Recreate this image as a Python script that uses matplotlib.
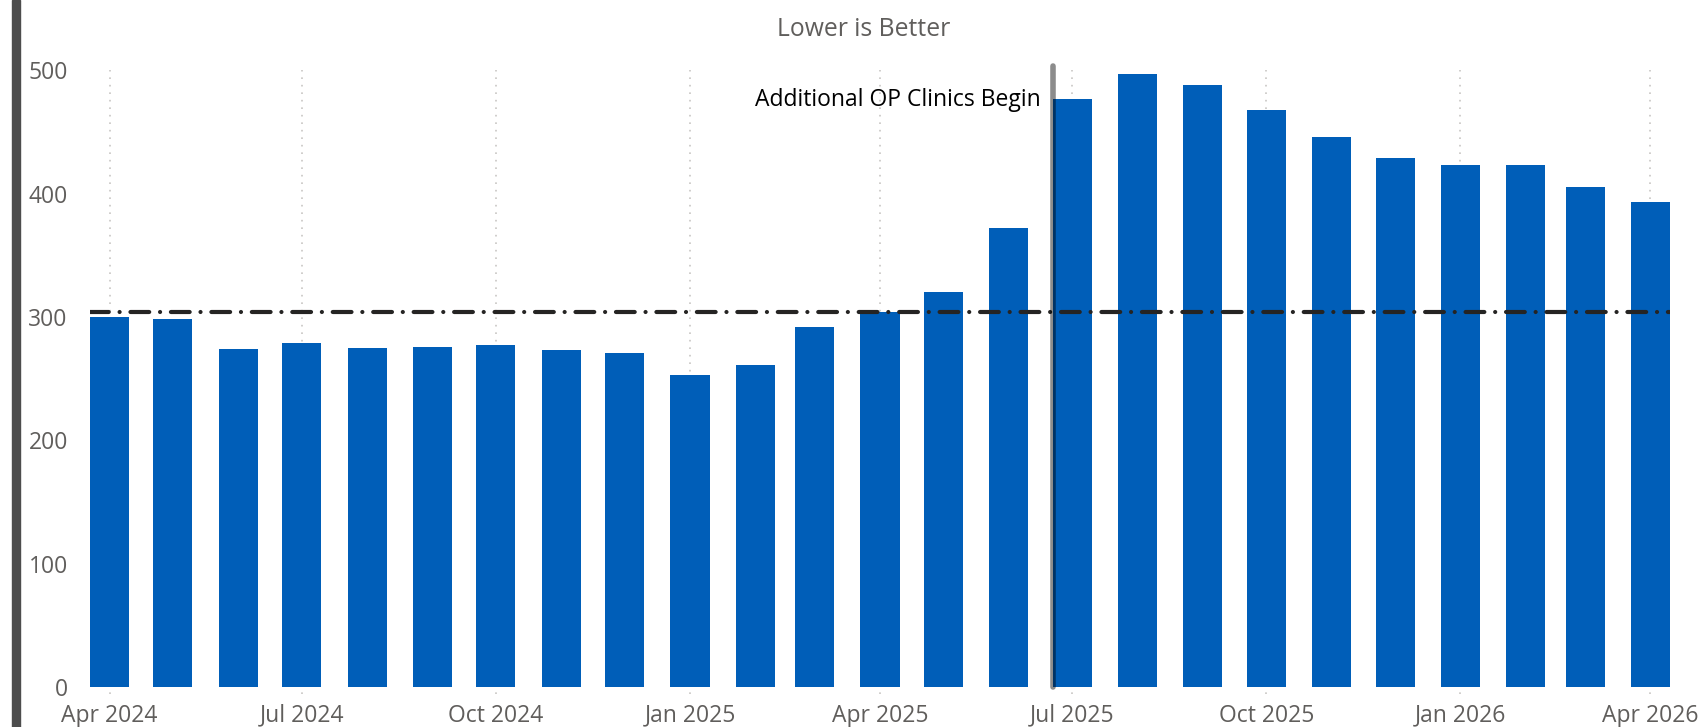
import matplotlib
matplotlib.use("Agg")
import matplotlib.pyplot as plt
import matplotlib.dates as mdates
from matplotlib.patches import Rectangle
import numpy as np
import pandas as pd

plt.rcParams['font.family'] = ['Open Sans', 'DejaVu Sans']

# Monthly values, Apr 2024 - Apr 2026
months = pd.date_range("2024-04-01", "2026-04-01", freq="MS")
values = [300, 298, 274, 279, 275, 276, 277, 273, 271, 253, 261, 292,
          304, 320, 372, 477, 497, 488, 468, 446, 429, 423, 423, 405, 393]
baseline = 304
event_date = pd.Timestamp("2025-06-22")
event_label = "Additional OP Clinics Begin"
tick_dates = pd.date_range("2024-04-01", "2026-04-01", freq="QS-JAN")
tick_labels = [d.strftime("%b %Y") for d in tick_dates]
title = "Lower is Better"

BAR = "#005EB8"
TXT = "#605E5C"

W, H, DPI = 1702, 727, 100
fig = plt.figure(figsize=(W / DPI, H / DPI), dpi=DPI)

left, right, bottom, top = 90, 1670, 40, 663
ax = fig.add_axes([left / W, bottom / H, (right - left) / W, (top - bottom) / H])

bar_w = 18.5
ax.bar(months, values, width=bar_w, color=BAR, zorder=2)

x0 = mdates.date2num(months[0]) - bar_w / 2
x1 = mdates.date2num(months[-1]) + bar_w / 2
ax.set_xlim(x0, x1)
ax.set_ylim(0, 505)

# dotted quarterly gridlines
for d in tick_dates:
    ax.axvline(d, ymin=-0.012, ymax=0.99, color="#C8C6C4", lw=1.2,
               ls=(0, (1, 3.5)), zorder=1, clip_on=False)

# baseline reference
ax.axhline(baseline, color="#252423", lw=3.0, zorder=3,
           dashes=(4.5, 2.6, 0.01, 2.6), dash_capstyle="round")

# event marker
ax.vlines(event_date, 0, 503, colors="black", alpha=0.45, lw=4.0,
          capstyle="round", zorder=4, clip_on=False)
ax.text(mdates.date2num(event_date) - 6, 476, event_label, ha="right",
        va="center", fontsize=16.5, color="#000000", zorder=5)

ax.set_xticks(tick_dates)
ax.set_xticklabels(tick_labels)
ax.set_yticks([0, 100, 200, 300, 400, 500])
ax.tick_params(axis="both", length=0, labelsize=16.5, labelcolor=TXT)
ax.tick_params(axis="y", pad=16)
ax.tick_params(axis="x", pad=12)
for s in ax.spines.values():
    s.set_visible(False)

fig.text(864 / W, 1 - 29 / H, title, ha="center", va="center",
         fontsize=17.8, color=TXT)

# left accent bar
fig.patches.append(Rectangle((12 / W, 0), 8 / W, 1, transform=fig.transFigure,
                             color="#4D4D4D", zorder=0))

fig.savefig("out.png", dpi=DPI)
